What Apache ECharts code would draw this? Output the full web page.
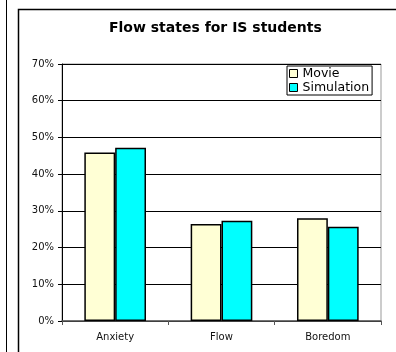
<!DOCTYPE html>
<html>
<head>
<meta charset="utf-8">
<script src="https://cdn.jsdelivr.net/npm/echarts@6/dist/echarts.min.js"></script>
<style>
  html, body { margin: 0; padding: 0; background: #fff; }
  #chart { width: 396px; height: 352px; }
</style>
</head>
<body>
<div id="chart"></div>
<script>
// Share of IS students reporting each flow state, per instruction mode
const categories = ['Anxiety', 'Flow', 'Boredom'];
const movieValues = [0.459, 0.264, 0.280];
const simulationValues = [0.472, 0.273, 0.257];
const seriesNames = ['Movie', 'Simulation'];
const yTicks = [0, 0.1, 0.2, 0.3, 0.4, 0.5, 0.6, 0.7];

const FONT = 'DejaVu Sans, Verdana, sans-serif';
const chart = echarts.init(document.getElementById('chart'), null, { renderer: 'canvas' });

chart.setOption({
  animation: false,
  backgroundColor: '#fff',
  title: {
    text: 'Flow states for IS students',
    left: 109,
    top: 21,
    padding: 0,
    textStyle: { fontFamily: FONT, fontSize: 14, fontWeight: 'bold', color: '#000' }
  },
  graphic: [
    { type: 'line', shape: { x1: 6.5, y1: 0, x2: 6.5, y2: 352 }, style: { stroke: '#000', lineWidth: 1 } },
    { type: 'rect', shape: { x: 18.5, y: 9.5, width: 400, height: 360 }, style: { fill: 'none', stroke: '#000', lineWidth: 1.5 } }
  ],
  legend: {
    data: seriesNames,
    orient: 'vertical',
    left: 287,
    top: 66,
    padding: [1, 3, 1, 2],
    itemGap: 1,
    itemWidth: 8,
    itemHeight: 8,
    backgroundColor: '#fff',
    borderColor: '#000',
    borderWidth: 1,
    icon: 'rect',
    itemStyle: { borderColor: '#000', borderWidth: 1 },
    textStyle: { fontFamily: FONT, fontSize: 12.5, color: '#000', lineHeight: 13 }
  },
  grid: {
    left: 62, top: 64, right: 15, bottom: 31,
    show: true, borderColor: '#999', borderWidth: 1, backgroundColor: '#fff'
  },
  xAxis: {
    type: 'category',
    data: categories,
    axisLine: { lineStyle: { color: '#555', width: 1.5 } },
    axisTick: { show: true, interval: 0, length: 4, lineStyle: { color: '#555' } },
    axisLabel: { fontFamily: FONT, fontSize: 10, color: '#111', margin: 11 }
  },
  yAxis: {
    type: 'value',
    min: yTicks[0],
    max: yTicks[yTicks.length - 1],
    interval: 0.1,
    axisLine: { show: true, lineStyle: { color: '#000', width: 1 } },
    axisTick: { show: true, length: 4, lineStyle: { color: '#000' } },
    splitLine: { show: true, lineStyle: { color: '#000', width: 1 } },
    axisLabel: {
      fontFamily: FONT, fontSize: 10, color: '#111', margin: 8,
      formatter: v => Math.round(v * 100) + '%'
    }
  },
  series: [
    {
      name: seriesNames[0],
      type: 'bar',
      data: movieValues,
      barGap: '0%',
      barCategoryGap: '42%',
      itemStyle: { color: '#FFFFD5', borderColor: '#000', borderWidth: 1.5 }
    },
    {
      name: seriesNames[1],
      type: 'bar',
      data: simulationValues,
      barGap: '0%',
      barCategoryGap: '42%',
      itemStyle: { color: '#00FFFF', borderColor: '#000', borderWidth: 1.5 }
    }
  ]
});
</script>
</body>
</html>
